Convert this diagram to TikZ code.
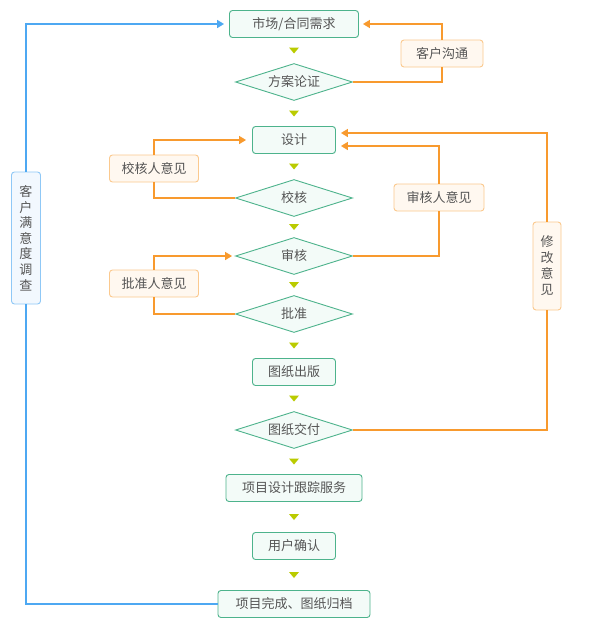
\documentclass[tikz,border=0pt]{standalone}
\usepackage{fontspec}
\setmainfont{Noto Sans CJK SC}
\usetikzlibrary{shapes.geometric,arrows.meta,calc}
\definecolor{gline}{HTML}{4DB38C}
\definecolor{gfill}{HTML}{F3FBF8}
\definecolor{oline}{HTML}{F89A2E}
\definecolor{obord}{HTML}{FBC98E}
\definecolor{ofill}{HTML}{FFF8F0}
\definecolor{bline}{HTML}{4DA8F2}
\definecolor{bbord}{HTML}{8FC8F6}
\definecolor{bfill}{HTML}{F2F8FE}
\definecolor{tricol}{HTML}{BACB00}
\definecolor{txt}{HTML}{555555}
\tikzset{
  base/.style={text=txt, font=\fontsize{13}{15}\selectfont, inner sep=0pt},
  gbox/.style={base, draw=gline, fill=gfill, line width=0.9pt, rounded corners=3pt, minimum height=27pt},
  gdia/.style={base, draw=gline, fill=gfill, line width=0.9pt, diamond, aspect=3, minimum width=117pt, minimum height=37pt},
  obox/.style={base, draw=obord, fill=ofill, line width=0.9pt, rounded corners=3pt, minimum height=27pt},
  ovbox/.style={base, draw=obord, fill=ofill, line width=0.9pt, rounded corners=3pt, minimum width=28pt, align=center, font=\fontsize{13}{16}\selectfont},
  bvbox/.style={base, draw=bbord, fill=bfill, line width=0.9pt, rounded corners=3pt, minimum width=29pt, align=center, font=\fontsize{13}{15.6}\selectfont},
  oarr/.style={draw=oline, line width=1.6pt, -{Triangle[length=7pt,width=8pt]}},
  oln/.style={draw=oline, line width=1.6pt},
  barr/.style={draw=bline, line width=1.6pt, -{Triangle[length=7pt,width=8pt]}},
  bln/.style={draw=bline, line width=1.6pt},
}
\newcommand{\flowtri}[2]{%
  \path (#1.south) -- (#2.north) coordinate[midway] (tmp);
  \fill[tricol] ($(tmp)+(-5,-3)$) -- ($(tmp)+(5,-3)$) -- ($(tmp)+(0,3)$) -- cycle;}
\begin{document}
\begin{tikzpicture}[x=1pt,y=-1pt]
\useasboundingbox (0,0) rectangle (589,632);
\fill[white] (0,0) rectangle (589,632);
% main flow
\node[gbox, minimum width=129pt] (n1) at (294,24) {市场/合同需求};
\node[gdia] (n2) at (294,82) {方案论证};
\node[gbox, minimum width=83pt] (n3) at (294,140) {设计};
\node[gdia] (n4) at (294,198) {校核};
\node[gdia] (n5) at (294,256) {审核};
\node[gdia] (n6) at (294,314) {批准};
\node[gbox, minimum width=83pt] (n7) at (294,372) {图纸出版};
\node[gdia] (n8) at (294,430) {图纸交付};
\node[gbox, minimum width=136pt] (n9) at (294,488) {项目设计跟踪服务};
\node[gbox, minimum width=83pt] (n10) at (294,546) {用户确认};
\node[gbox, minimum width=152pt] (n11) at (294,604) {项目完成、图纸归档};
% side labels
\node[obox, minimum width=82pt] (kg) at (442,53.5) {客户沟通};
\node[obox, minimum width=89pt] (jh) at (154,168.5) {校核人意见};
\node[obox, minimum width=89pt] (pz) at (154,283.5) {批准人意见};
\node[obox, minimum width=90pt] (sh) at (439,197.5) {审核人意见};
\node[ovbox, minimum height=88pt] (xg) at (547,266) {修\\改\\意\\见};
\node[bvbox, minimum height=132pt] (my) at (26,238) {客\\户\\满\\意\\度\\调\\查};
% small flow triangles
\flowtri{n1}{n2}
\flowtri{n2}{n3}
\flowtri{n3}{n4}
\flowtri{n4}{n5}
\flowtri{n5}{n6}
\flowtri{n6}{n7}
\flowtri{n7}{n8}
\flowtri{n8}{n9}
\flowtri{n9}{n10}
\flowtri{n10}{n11}
% feedback connectors
\draw[oln] (n2.east) -| (kg.south);
\draw[oarr] (kg.north) |- ($(n1.east)+(4,0)$);
\draw[oln] (n4.west) -| (jh.south);
\draw[oarr] (jh.north) |- ($(n3.west)+(-6,0)$);
\draw[oln] (n6.west) -| (pz.south);
\draw[oarr] (pz.north) |- ($(n5.west)+(-3,0)$);
\draw[oln] (n5.east) -| (sh.south);
\draw[oarr] (sh.north) |- ($(n3.east)+(5,6)$);
\draw[oln] (n8.east) -| (xg.south);
\draw[oarr] (xg.north) |- ($(n3.east)+(5,-7)$);
\draw[bln] (n11.west) -| (my.south);
\draw[barr] (my.north) |- ($(n1.west)+(-5,0)$);
\end{tikzpicture}
\end{document}
